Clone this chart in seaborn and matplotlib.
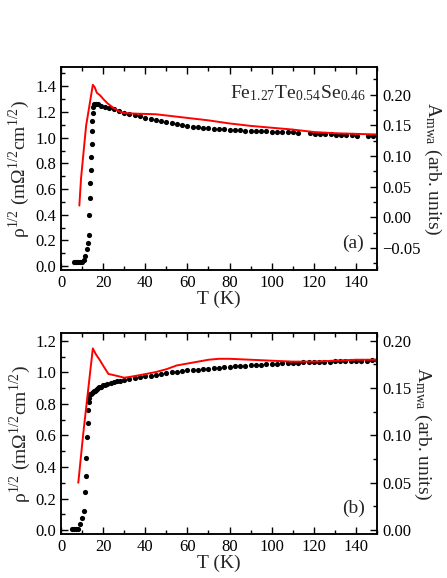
import matplotlib
matplotlib.use("Agg")
import matplotlib.pyplot as plt
import seaborn as sns
from matplotlib.ticker import MultipleLocator

sns.set_theme(style="ticks")
plt.rcParams["font.family"] = ["Liberation Serif", "DejaVu Serif"]
plt.rcParams["mathtext.fontset"] = "stix"
plt.rcParams.update({
    "xtick.direction": "in",
    "ytick.direction": "in",
    "xtick.top": True,
    "axes.edgecolor": "black",
    "xtick.color": "black",
    "ytick.color": "black",
})

# panel (a): resistivity (left axis) and microwave absorption (right axis)
temp_a = [6, 7, 8, 9, 10, 10.8, 11.5, 12.2, 12.8, 13.2,
          13.5, 13.7, 13.9, 14.1, 14.3, 14.5, 14.7, 14.9, 15.1, 15.4,
          15.8, 16.5, 17.5, 19, 21, 23, 25, 27.5, 30, 32.5,
          35, 37.5, 40, 42.5, 45, 47.5, 50, 52.5, 55, 57.5,
          60, 62.5, 65, 67.5, 70, 72.5, 75, 77.5, 80, 82.5,
          85, 87.5, 90, 92.5, 95, 97.5, 100, 102.5, 105, 107.5,
          110, 112.5, 118, 120.5, 123, 125.5, 128, 130.5, 133, 135.5,
          138, 140.5, 145.5, 148]
rho_a = [0.03, 0.03, 0.03, 0.03, 0.035, 0.05, 0.08, 0.13, 0.18, 0.24,
         0.40, 0.53, 0.65, 0.75, 0.85, 0.95, 1.05, 1.13, 1.19, 1.24,
         1.265, 1.265, 1.26, 1.25, 1.24, 1.23, 1.22, 1.21, 1.195, 1.185,
         1.175, 1.165, 1.15, 1.143, 1.136, 1.13, 1.123, 1.117, 1.105, 1.097,
         1.09, 1.085, 1.08, 1.077, 1.073, 1.07, 1.067, 1.064, 1.061, 1.059,
         1.057, 1.055, 1.053, 1.052, 1.05, 1.049, 1.047, 1.046, 1.045, 1.043,
         1.042, 1.04, 1.035, 1.032, 1.03, 1.028, 1.026, 1.024, 1.022, 1.02,
         1.018, 1.016, 1.012, 1.01]
temp_mwa_a = [8.7, 9.5, 10.5, 11.9, 13, 15.1, 16, 17, 18.5, 20, 22, 25, 28, 30,
              35, 45, 50, 60, 70, 80, 90, 100, 110, 120, 130, 140, 150]
mwa_a = [0.019, 0.063, 0.099, 0.149, 0.172, 0.216, 0.212, 0.203, 0.199, 0.193,
         0.186, 0.178, 0.172, 0.170, 0.169, 0.168, 0.166, 0.162, 0.158, 0.153,
         0.149, 0.146, 0.143, 0.139, 0.137, 0.136, 0.135]

# panel (b)
temp_b = [5, 6, 7, 8, 9, 10, 10.8, 11.3, 11.7, 12.0,
          12.3, 12.6, 12.9, 13.2, 13.5, 13.8, 14.1, 14.5, 15, 15.5,
          16, 16.5, 17, 17.5, 18, 19, 20, 21, 22, 23.5,
          25, 26.5, 28, 30, 32.5, 35, 37.5, 40, 42.5, 45,
          47.5, 50, 52.5, 55, 57.5, 60, 62.5, 65, 67.5, 70,
          72.5, 75, 77.5, 80, 82.5, 85, 87.5, 90, 92.5, 95,
          97.5, 100, 102.5, 105, 107.5, 110, 112.5, 115, 117.5, 120,
          122.5, 125, 127.5, 130, 132.5, 135, 137.5, 140, 142.5, 145,
          147.5, 150]
rho_b = [0.01, 0.01, 0.01, 0.01, 0.04, 0.075, 0.12, 0.24, 0.34, 0.46,
         0.59, 0.68, 0.76, 0.81, 0.84, 0.86, 0.865, 0.87, 0.875, 0.88,
         0.885, 0.89, 0.895, 0.90, 0.905, 0.91, 0.917, 0.922, 0.927, 0.933,
         0.938, 0.943, 0.948, 0.953, 0.958, 0.965, 0.97, 0.976, 0.98, 0.985,
         0.99, 0.995, 1.0, 1.004, 1.008, 1.012, 1.015, 1.018, 1.021, 1.024,
         1.027, 1.03, 1.033, 1.036, 1.039, 1.041, 1.043, 1.045, 1.047, 1.049,
         1.051, 1.053, 1.055, 1.057, 1.059, 1.061, 1.062, 1.063, 1.064, 1.065,
         1.066, 1.067, 1.068, 1.069, 1.07, 1.071, 1.072, 1.073, 1.074, 1.075,
         1.076, 1.077]
temp_mwa_b = [8.2, 10.6, 15.1, 16.5, 18.6, 20.5, 22.5, 26.5, 30, 33, 38, 45,
              50, 55, 60, 65, 70, 75, 80, 90, 100, 110, 120, 130, 140, 150]
mwa_b = [0.050, 0.103, 0.192, 0.186, 0.179, 0.172, 0.165, 0.163, 0.161, 0.162,
         0.164, 0.167, 0.170, 0.174, 0.176, 0.178, 0.180, 0.181, 0.181, 0.180,
         0.179, 0.178, 0.178, 0.179, 0.180, 0.180]

rho_label = r"ρ$^{\mathregular{1/2}}$ (mΩ$^{\mathregular{1/2}}$cm$^{\mathregular{1/2}}$)"
mwa_label = r"A$_{\mathregular{mwa}}$ (arb. units)"


def panel(ax, temp, rho, temp_mwa, mwa, ylim, ylim2, major2, tag):
    sns.scatterplot(x=temp, y=rho, ax=ax, color="black", s=14, linewidth=0)
    ax.set_xlim(0, 150)
    ax.set_ylim(*ylim)
    ax.xaxis.set_major_locator(MultipleLocator(20))
    ax.xaxis.set_minor_locator(MultipleLocator(10))
    ax.yaxis.set_major_locator(MultipleLocator(0.2))
    ax.yaxis.set_minor_locator(MultipleLocator(0.1))
    ax.tick_params(which="both", direction="in", top=True, right=False,
                   labelsize=12, width=1)
    ax.tick_params(which="major", length=5)
    ax.tick_params(which="minor", length=3)
    ax.set_xlabel("T (K)", fontsize=14, labelpad=0)
    ax.set_ylabel(rho_label, fontsize=14, labelpad=2)
    ax.text(0.925, 0.13, tag, transform=ax.transAxes, fontsize=14,
            ha="center", va="center")

    ax2 = ax.twinx()
    sns.lineplot(x=temp_mwa, y=mwa, ax=ax2, color="red", linewidth=1.4,
                 estimator=None, sort=False)
    ax2.set_ylim(*ylim2)
    ax2.yaxis.set_major_locator(MultipleLocator(major2))
    ax2.yaxis.set_minor_locator(MultipleLocator(major2 / 2))
    ax2.tick_params(which="both", direction="in", labelsize=12, width=1)
    ax2.tick_params(which="major", length=5)
    ax2.tick_params(which="minor", length=3)
    ax2.set_ylabel(mwa_label, fontsize=14, rotation=270, labelpad=16)
    for a in (ax, ax2):
        for sp in a.spines.values():
            sp.set_linewidth(1.1)
            sp.set_color("black")
    return ax2


fig = plt.figure(figsize=(4.47, 5.78), dpi=100)
ax_a = fig.add_axes([0.1365, 0.533, 0.707, 0.351])
ax_b = fig.add_axes([0.1365, 0.076, 0.707, 0.348])

panel(ax_a, temp_a, rho_a, temp_mwa_a, mwa_a, (-0.03, 1.55), (-0.086, 0.245), 0.05, "(a)")
ax_a.text(0.965, 0.87, r"Fe$_{\mathregular{1.27}}$Te$_{\mathregular{0.54}}$Se$_{\mathregular{0.46}}$",
          transform=ax_a.transAxes, fontsize=14, ha="right", va="center")
panel(ax_b, temp_b, rho_b, temp_mwa_b, mwa_b, (-0.025, 1.25), (-0.025 / 6, 1.25 / 6), 0.05, "(b)")

fig.savefig("out.png", dpi=100)
